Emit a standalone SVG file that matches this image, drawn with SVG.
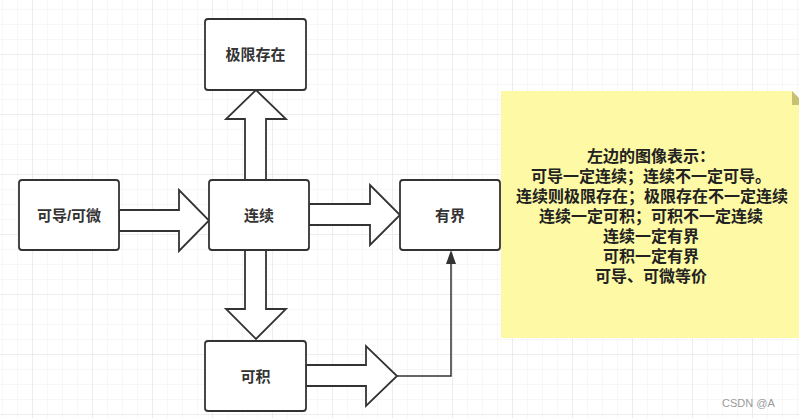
<svg xmlns="http://www.w3.org/2000/svg" width="799" height="418" viewBox="0 0 799 418">
  <defs>
    <pattern id="minor" x="2" y="9" width="15" height="15" patternUnits="userSpaceOnUse">
      <path d="M0,0 H15 M0,0 V15" fill="none" stroke="#efefef" stroke-width="1"/>
    </pattern>
    <pattern id="major" x="32" y="54" width="60" height="60" patternUnits="userSpaceOnUse">
      <path d="M0,0 H60 M0,0 V60" fill="none" stroke="#e3e3e3" stroke-width="1"/>
    </pattern>
    <style>
      .node rect { fill: #ffffff; stroke: #333333; stroke-width: 1.8; }
      .lbl { font-family: "Liberation Sans", "Noto Sans CJK SC", sans-serif; font-weight: bold; font-size: 15px; fill: #333333; text-anchor: middle; dominant-baseline: central; }
      .big { fill: #ffffff; stroke: #333333; stroke-width: 1.8; stroke-linejoin: miter; }
      .thin { fill: none; stroke: #333333; stroke-width: 1.5; }
      .note { font-family: "Liberation Sans", "Noto Sans CJK SC", sans-serif; font-weight: bold; font-size: 16px; fill: #222222; text-anchor: middle; }
    </style>
  </defs>
  <rect width="799" height="418" fill="#ffffff"/>
  <rect width="799" height="418" fill="url(#minor)"/>
  <rect width="799" height="418" fill="url(#major)"/>

  <g id="connectors">
    <polygon class="big" points="119,210 179,210 179,190 209,220.5 179,251 179,231 119,231"/>
    <polygon class="big" points="309,204 370,204 370,185 400,215 370,245 370,225 309,225"/>
    <polygon class="big" points="245,180 245,119 226,119 256,90 286,119 266,119 266,180"/>
    <polygon class="big" points="245,250 245,309 226,309 256,339 286,309 266,309 266,250"/>
    <polygon class="big" points="306,365 366,365 366,346 397,376 366,406 366,386 306,386"/>
    <path class="thin" d="M397,376 H451 V262"/>
    <polygon points="451,250 446,264 456,264" fill="#333333"/>
  </g>

  <g id="node-jixian" class="node">
    <rect x="205" y="19" width="101" height="71" rx="3"/>
    <text class="lbl" x="255.5" y="54">极限存在</text>
  </g>
  <g id="node-kedao" class="node">
    <rect x="19" y="180" width="100" height="70" rx="3"/>
    <text class="lbl" x="69" y="215">可导/可微</text>
  </g>
  <g id="node-lianxu" class="node">
    <rect x="209" y="180" width="100" height="70" rx="3"/>
    <text class="lbl" x="259" y="215">连续</text>
  </g>
  <g id="node-youjie" class="node">
    <rect x="400" y="180" width="100" height="70" rx="3"/>
    <text class="lbl" x="450" y="215">有界</text>
  </g>
  <g id="node-keji" class="node">
    <rect x="205" y="341" width="101" height="70" rx="3"/>
    <text class="lbl" x="255.5" y="376">可积</text>
  </g>

  <g id="note">
    <path d="M501,91 H792 L806,105 V338 H501 Z" fill="#fdf9a4"/>
    <polygon points="792,91 792,105 806,105" fill="#c8c174"/>
    <text class="note" x="651" y="162">左边的图像表示：</text>
    <text class="note" x="651" y="182">可导一定连续；连续不一定可导。</text>
    <text class="note" x="652" y="202">连续则极限存在；极限存在不一定连续</text>
    <text class="note" x="651" y="222">连续一定可积；可积不一定连续</text>
    <text class="note" x="651" y="242">连续一定有界</text>
    <text class="note" x="651" y="262">可积一定有界</text>
    <text class="note" x="651" y="282">可导、可微等价</text>
  </g>

  <text x="722" y="407" font-family="Liberation Sans, sans-serif" font-size="11" fill="#9a9a9a">CSDN @A</text>
</svg>
